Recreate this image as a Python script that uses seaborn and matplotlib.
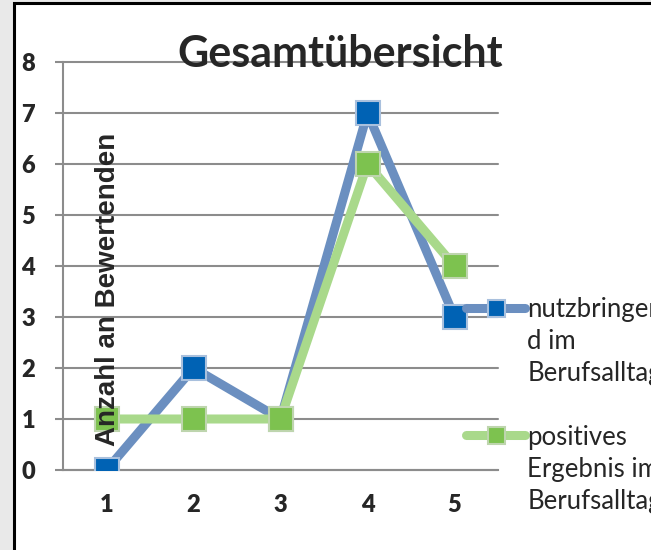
import matplotlib
matplotlib.use("Agg")
import matplotlib.pyplot as plt
import seaborn as sns
import pandas as pd
from matplotlib.patches import Rectangle
from matplotlib.offsetbox import HPacker

# Werte aus dem Diagramm
kategorien = [1, 2, 3, 4, 5]
nutzbringend = [0, 2, 1, 7, 3]
positiv = [1, 1, 1, 6, 4]
serien = ["nutzbringen\nd im\nBerufsalltag", "positives\nErgebnis im\nBerufsalltag"]
y_ticks = [0, 1, 2, 3, 4, 5, 6, 7, 8]

df_nutz = pd.DataFrame({"Kategorie": kategorien, "Anzahl": nutzbringend})
df_pos = pd.DataFrame({"Kategorie": kategorien, "Anzahl": positiv})

sns.set_style("white")
plt.rcParams["font.family"] = ["Lato", "DejaVu Sans"]

W, H = 651, 550
fig = plt.figure(figsize=(W / 100, H / 100), dpi=100, facecolor="#e9e9e9")

# weisser Diagrammbereich mit schwarzem Rahmen
fig.add_artist(Rectangle((14 / W, -0.1), 1.2, (547 / H) + 0.1, transform=fig.transFigure,
                         facecolor="white", edgecolor="black", linewidth=2.2, zorder=-1))

ax = fig.add_axes([63 / W, 80 / H, 435 / W, 408 / H])
ax.patch.set_alpha(0)

grid_col = "#8c8c8c"

sns.lineplot(data=df_nutz, x="Kategorie", y="Anzahl", ax=ax, color="#6b8fc0", linewidth=6.5,
             marker="s", markersize=17, markerfacecolor="#0062b4", markeredgecolor="#a9c0dd",
             markeredgewidth=1.5, solid_capstyle="round", solid_joinstyle="round",
             label=serien[0], zorder=3)
sns.lineplot(data=df_pos, x="Kategorie", y="Anzahl", ax=ax, color="#a9d98b", linewidth=6.5,
             marker="s", markersize=17, markerfacecolor="#7dc24f", markeredgecolor="#bed5ae",
             markeredgewidth=1.5, solid_capstyle="round", solid_joinstyle="round",
             label=serien[1], zorder=4)

ax.set_xlim(0.5, 5.5)
ax.set_ylim(0, 8)
ax.set_xticks(kategorien, labels=[str(k) for k in kategorien], fontweight="heavy", fontsize=17)
ax.set_yticks(y_ticks, labels=[str(v) for v in y_ticks], fontweight="heavy", fontsize=17)
ax.set_xlabel("")
ax.set_ylabel("")

ax.grid(axis="y", color=grid_col, linewidth=1.5, zorder=0)
ax.grid(axis="x", visible=False)
for gl in ax.get_ygridlines():
    gl.set_clip_on(False)
for side in ["top", "right"]:
    ax.spines[side].set_visible(False)
for side in ["left", "bottom"]:
    ax.spines[side].set_color(grid_col)
    ax.spines[side].set_linewidth(1.5)

ax.tick_params(axis="y", left=True, length=6, width=1.5, color=grid_col, pad=14)
ax.tick_params(axis="x", bottom=False, length=0, pad=17)

fig.text(340 / W, 1 - 67 / H, "Gesamtübersicht", ha="center", va="baseline",
         fontsize=31, fontweight="bold")
fig.text(108 / W, 1 - 289 / H, "Anzahl an Bewertenden", rotation=90, ha="center",
         va="center", fontsize=20, fontweight="bold",
         family=["Liberation Sans", "DejaVu Sans"])

ax.get_legend().remove()
handles, labels = ax.get_legend_handles_labels()
leg = fig.legend(handles, labels, loc="upper left", bbox_to_anchor=(466 / W, 1 - 297 / H),
                 frameon=False, fontsize=18.5, borderpad=0, borderaxespad=0,
                 handlelength=2.3, handleheight=1.2, handletextpad=0.08,
                 labelspacing=1.5, markerscale=0.72)
for t in leg.get_texts():
    t.set_linespacing(1.35)
for hp in leg.findobj(HPacker):
    hp.align = "top"

fig.savefig("out.png", dpi=100, facecolor=fig.get_facecolor())
